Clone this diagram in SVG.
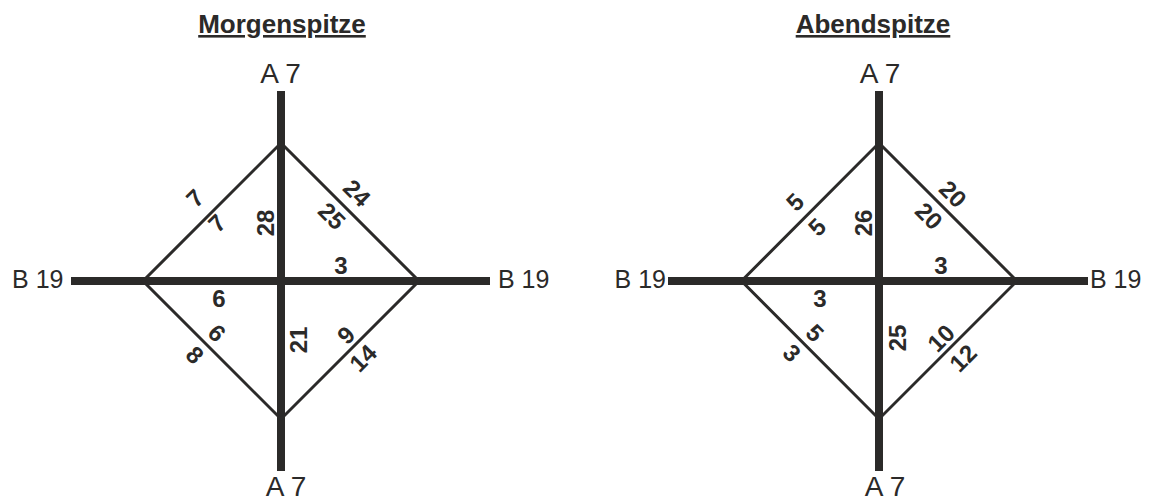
<svg xmlns="http://www.w3.org/2000/svg" width="1157" height="500" viewBox="0 0 1157 500">
<style>
.bg{fill:#ffffff}
.road{stroke:#2b2a29;stroke-width:8;fill:none}
.ramp{stroke:#2b2a29;stroke-width:3;fill:none;stroke-linejoin:miter}
.title{font-family:"Liberation Sans",Arial,sans-serif;font-weight:bold;font-size:26px;fill:#2b2a29;text-anchor:middle;text-decoration:underline}
.rd{font-family:"Liberation Sans",Arial,sans-serif;font-size:28px;fill:#2b2a29;text-anchor:middle}
.rdb{font-family:"Liberation Sans",Arial,sans-serif;font-size:25px;fill:#2b2a29}
.n{font-family:"Liberation Sans",Arial,sans-serif;font-weight:bold;font-size:24px;fill:#2b2a29;text-anchor:middle;dominant-baseline:central}
</style>
<rect class="bg" x="0" y="0" width="1157" height="500"/>

<g id="morgen">
  <text id="morgen-title" class="title" x="282" y="33">Morgenspitze</text>
  <g id="morgen-connectors">
    <line class="road" x1="281" y1="91" x2="281" y2="471"/>
    <line class="road" x1="71" y1="281" x2="490" y2="281"/>
    <polygon class="ramp" points="281,143 419,281 281,419 143,281"/>
  </g>
  <g id="morgen-a7-top"><text class="rd" x="280.5" y="83">A 7</text></g>
  <g id="morgen-a7-bottom"><text class="rd" x="286" y="496">A 7</text></g>
  <g id="morgen-b19-left"><text class="rdb" x="63.5" y="288" text-anchor="end">B 19</text></g>
  <g id="morgen-b19-right"><text class="rdb" x="498" y="288">B 19</text></g>
  <g id="morgen-labels">
    <text class="n" transform="translate(195,198) rotate(-45)">7</text>
    <text class="n" transform="translate(217,223) rotate(-45)">7</text>
    <text class="n" transform="translate(265,223) rotate(-90)">28</text>
    <text class="n" transform="translate(357,193) rotate(45)">24</text>
    <text class="n" transform="translate(332,216) rotate(45)">25</text>
    <text class="n" x="341" y="265">3</text>
    <text class="n" x="219" y="298">6</text>
    <text class="n" transform="translate(217,333) rotate(45)">6</text>
    <text class="n" transform="translate(195,355) rotate(45)">8</text>
    <text class="n" transform="translate(298,340) rotate(-90)">21</text>
    <text class="n" transform="translate(346,335) rotate(-45)">9</text>
    <text class="n" transform="translate(363,358) rotate(-45)">14</text>
  </g>
</g>

<g id="abend">
  <text id="abend-title" class="title" x="873" y="33">Abendspitze</text>
  <g id="abend-connectors">
    <line class="road" x1="879" y1="91" x2="879" y2="471"/>
    <line class="road" x1="668" y1="281" x2="1088" y2="281"/>
    <polygon class="ramp" points="879,143 1017,281 879,419 741.5,281"/>
  </g>
  <g id="abend-a7-top"><text class="rd" x="880" y="83">A 7</text></g>
  <g id="abend-a7-bottom"><text class="rd" x="885" y="496">A 7</text></g>
  <g id="abend-b19-left"><text class="rdb" x="666" y="288" text-anchor="end">B 19</text></g>
  <g id="abend-b19-right"><text class="rdb" x="1090" y="288">B 19</text></g>
  <g id="abend-labels">
    <text class="n" transform="translate(795,202) rotate(-45)">5</text>
    <text class="n" transform="translate(817,227) rotate(-45)">5</text>
    <text class="n" transform="translate(863,223) rotate(-90)">26</text>
    <text class="n" transform="translate(953,194) rotate(45)">20</text>
    <text class="n" transform="translate(929,216) rotate(45)">20</text>
    <text class="n" x="941" y="265">3</text>
    <text class="n" x="820" y="298">3</text>
    <text class="n" transform="translate(815,333) rotate(45)">5</text>
    <text class="n" transform="translate(792,353) rotate(45)">3</text>
    <text class="n" transform="translate(897,338) rotate(-90)">25</text>
    <text class="n" transform="translate(941,338) rotate(-45)">10</text>
    <text class="n" transform="translate(963,358) rotate(-45)">12</text>
  </g>
</g>
</svg>
